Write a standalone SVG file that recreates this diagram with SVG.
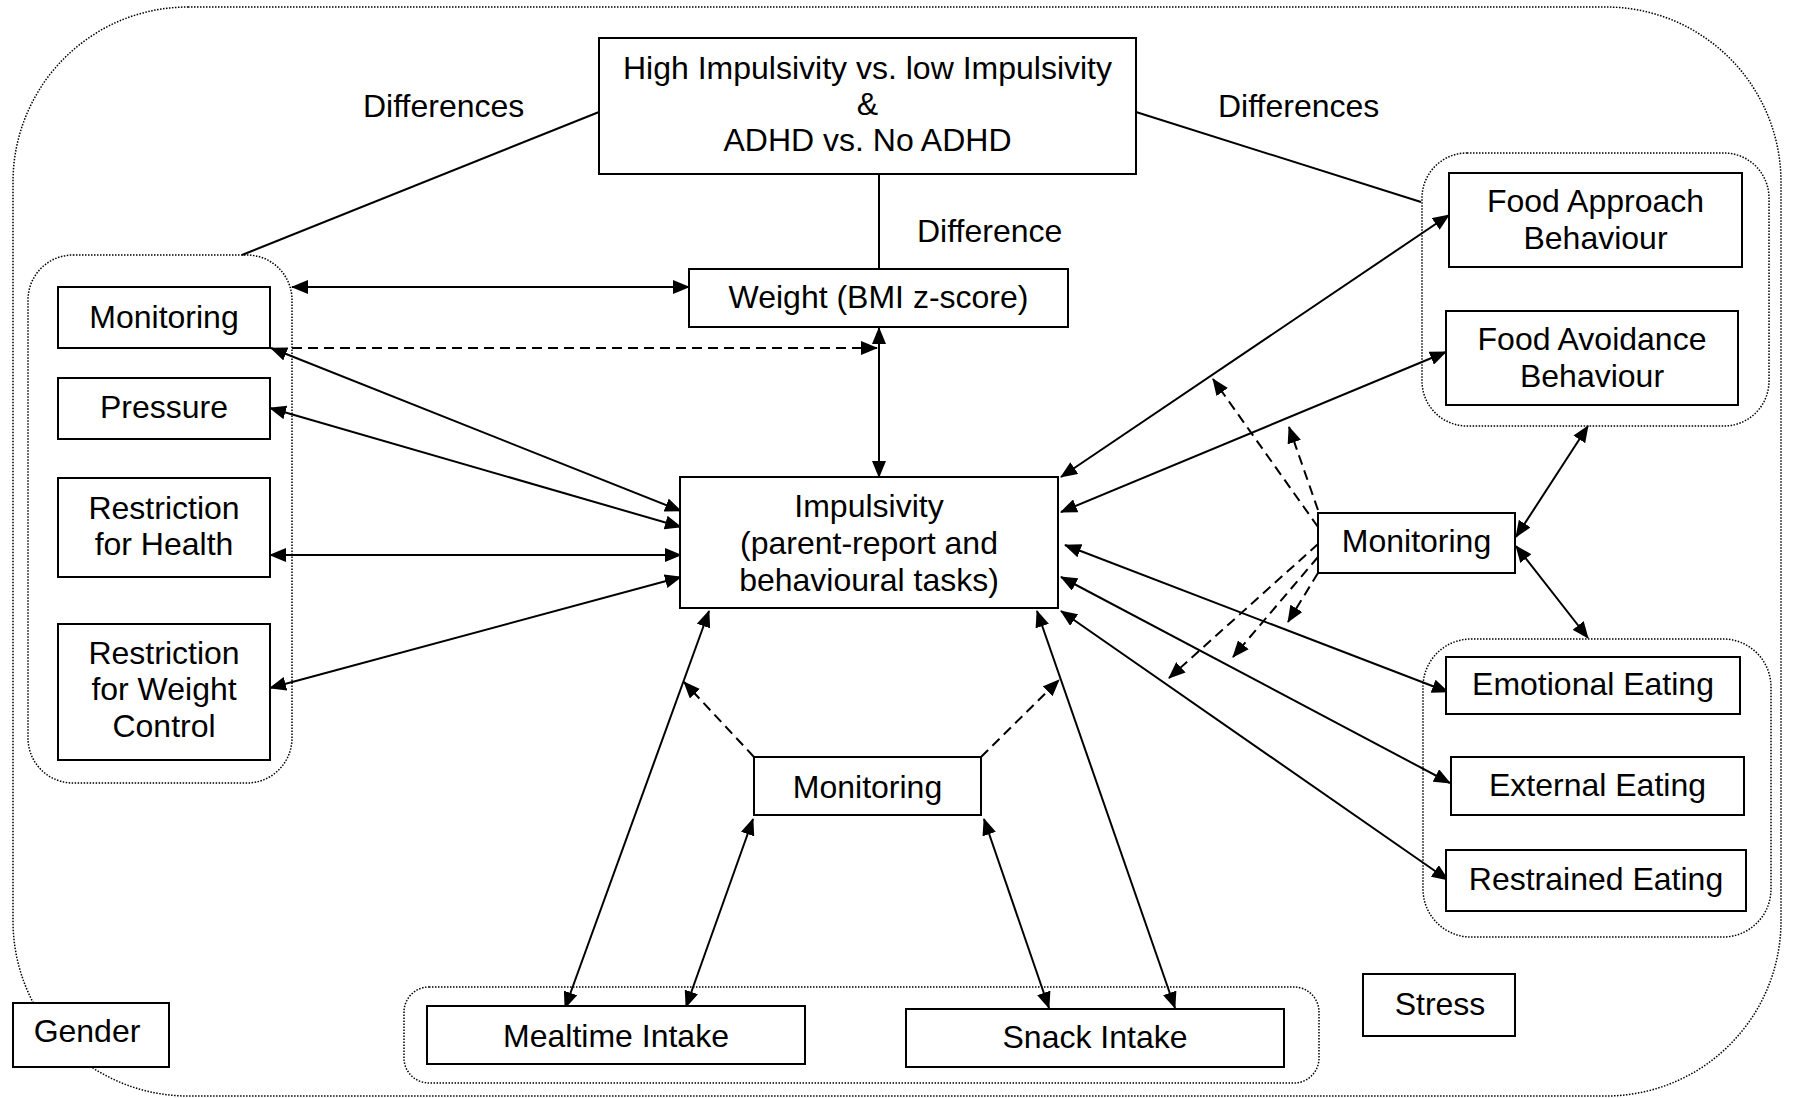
<svg xmlns="http://www.w3.org/2000/svg" width="1795" height="1098" viewBox="0 0 1795 1098">
  <defs>
    <style>
      .box { fill: #fff; stroke: #000; stroke-width: 2; }
      .grp { fill: none; stroke: #000; stroke-width: 1.5; stroke-dasharray: 1.5 1.5; }
      .ln { fill: none; stroke: #000; stroke-width: 2; }
      .both { marker-start: url(#ah); marker-end: url(#ah); }
      .one { marker-end: url(#ah); }
      .dash { stroke-dasharray: 10 6; }
      text { font-family: "Liberation Sans", Arial, sans-serif; font-size: 32px; fill: #000; }
      .c { text-anchor: middle; }
    </style>
    <marker id="ah" markerWidth="17" markerHeight="14" refX="16" refY="7" orient="auto-start-reverse" markerUnits="userSpaceOnUse">
      <path d="M0,0 L17,7 L0,14 z" fill="#000"/>
    </marker>
  </defs>

  <rect width="1795" height="1098" fill="#fff"/>

  <!-- enclosing dotted frame and sub-groups -->
  <g id="frames">
    <rect class="grp" x="13" y="7" width="1768" height="1089" rx="175" ry="175"/>
    <rect class="grp" x="28" y="255" width="264" height="528" rx="45" ry="45"/>
    <rect class="grp" x="1422" y="153" width="347" height="273" rx="45" ry="45"/>
    <rect class="grp" x="1423" y="639" width="348" height="298" rx="48" ry="48"/>
    <rect class="grp" x="404" y="987" width="915" height="96" rx="25" ry="25"/>
  </g>

  <!-- labels on the difference lines -->
  <g id="labels">
    <text x="363" y="117">Differences</text>
    <text x="1218" y="117">Differences</text>
    <text x="917" y="242">Difference</text>
  </g>

  <g id="connectors">
    <!-- plain difference lines -->
    <line class="ln" x1="599" y1="112" x2="242" y2="255"/>
    <line class="ln" x1="1136" y1="112" x2="1421" y2="202"/>
    <line class="ln" x1="879" y1="174" x2="879" y2="269"/>

    <!-- two-way relations -->
    <line class="ln both" x1="292" y1="287" x2="689" y2="287"/>
    <line class="ln both" x1="879" y1="328" x2="879" y2="477"/>
    <line class="ln both" x1="271" y1="348" x2="681" y2="511"/>
    <line class="ln both" x1="270" y1="408" x2="681" y2="527"/>
    <line class="ln both" x1="270" y1="555" x2="681" y2="555"/>
    <line class="ln both" x1="270" y1="688" x2="681" y2="577"/>
    <line class="ln both" x1="1061" y1="477" x2="1449" y2="215"/>
    <line class="ln both" x1="1061" y1="512" x2="1446" y2="352"/>
    <line class="ln both" x1="1065" y1="545" x2="1448" y2="692"/>
    <line class="ln both" x1="1061" y1="577" x2="1450" y2="783"/>
    <line class="ln both" x1="1061" y1="611" x2="1448" y2="880"/>
    <line class="ln both" x1="1516" y1="537" x2="1588" y2="426"/>
    <line class="ln both" x1="1516" y1="546" x2="1588" y2="638"/>
    <line class="ln both" x1="709" y1="611" x2="565" y2="1008"/>
    <line class="ln both" x1="753" y1="819" x2="686" y2="1007"/>
    <line class="ln both" x1="984" y1="819" x2="1049" y2="1008"/>
    <line class="ln both" x1="1037" y1="611" x2="1175" y2="1008"/>

    <!-- moderating (dashed) effects -->
    <line class="ln one dash" x1="292" y1="348" x2="877" y2="348"/>
    <line class="ln one dash" x1="1318" y1="527" x2="1213" y2="379"/>
    <line class="ln one dash" x1="1318" y1="510" x2="1289" y2="427"/>
    <line class="ln one dash" x1="1318" y1="544" x2="1169" y2="678"/>
    <line class="ln one dash" x1="1318" y1="557" x2="1233" y2="657"/>
    <line class="ln one dash" x1="1318" y1="573" x2="1288" y2="622"/>
    <line class="ln one dash" x1="754" y1="757" x2="684" y2="682"/>
    <line class="ln one dash" x1="981" y1="757" x2="1059" y2="680"/>
  </g>

  <g id="groups">
    <rect class="box" x="599" y="38" width="537" height="136"/>
    <text class="c" x="867.5" y="79">High Impulsivity vs. low Impulsivity</text>
    <text class="c" x="867.5" y="115">&amp;</text>
    <text class="c" x="867.5" y="151">ADHD vs. No ADHD</text>
  </g>

  <g id="weight">
    <rect class="box" x="689" y="269" width="379" height="58"/>
    <text class="c" x="878.5" y="308">Weight (BMI z-score)</text>
  </g>

  <g id="monitoring-left">
    <rect class="box" x="58" y="287" width="212" height="61"/>
    <text class="c" x="164" y="328">Monitoring</text>
  </g>

  <g id="pressure">
    <rect class="box" x="58" y="378" width="212" height="61"/>
    <text class="c" x="164" y="418">Pressure</text>
  </g>

  <g id="restriction-health">
    <rect class="box" x="58" y="478" width="212" height="99"/>
    <text class="c" x="164" y="519">Restriction</text>
    <text class="c" x="164" y="555">for Health</text>
  </g>

  <g id="restriction-weight">
    <rect class="box" x="58" y="624" width="212" height="136"/>
    <text class="c" x="164" y="664">Restriction</text>
    <text class="c" x="164" y="700">for Weight</text>
    <text class="c" x="164" y="737">Control</text>
  </g>

  <g id="impulsivity">
    <rect class="box" x="680" y="477" width="378" height="131"/>
    <text class="c" x="869" y="517">Impulsivity</text>
    <text class="c" x="869" y="554">(parent-report and</text>
    <text class="c" x="869" y="591">behavioural tasks)</text>
  </g>

  <g id="food-approach">
    <rect class="box" x="1449" y="173" width="293" height="94"/>
    <text class="c" x="1595.5" y="212">Food Approach</text>
    <text class="c" x="1595.5" y="249">Behaviour</text>
  </g>

  <g id="food-avoidance">
    <rect class="box" x="1446" y="311" width="292" height="94"/>
    <text class="c" x="1592" y="350">Food Avoidance</text>
    <text class="c" x="1592" y="387">Behaviour</text>
  </g>

  <g id="monitoring-right">
    <rect class="box" x="1318" y="513" width="197" height="60"/>
    <text class="c" x="1416.5" y="552">Monitoring</text>
  </g>

  <g id="emotional-eating">
    <rect class="box" x="1446" y="657" width="294" height="57"/>
    <text class="c" x="1593" y="695">Emotional Eating</text>
  </g>

  <g id="external-eating">
    <rect class="box" x="1451" y="757" width="293" height="58"/>
    <text class="c" x="1597.5" y="796">External Eating</text>
  </g>

  <g id="restrained-eating">
    <rect class="box" x="1446" y="850" width="300" height="61"/>
    <text class="c" x="1596" y="890">Restrained Eating</text>
  </g>

  <g id="monitoring-bottom">
    <rect class="box" x="754" y="757" width="227" height="58"/>
    <text class="c" x="867.5" y="798">Monitoring</text>
  </g>

  <g id="mealtime-intake">
    <rect class="box" x="427" y="1006" width="378" height="58"/>
    <text class="c" x="616" y="1047">Mealtime Intake</text>
  </g>

  <g id="snack-intake">
    <rect class="box" x="906" y="1009" width="378" height="58"/>
    <text class="c" x="1095" y="1048">Snack Intake</text>
  </g>

  <g id="gender">
    <rect class="box" x="13" y="1003" width="156" height="64"/>
    <text class="c" x="87" y="1042">Gender</text>
  </g>

  <g id="stress">
    <rect class="box" x="1363" y="974" width="152" height="62"/>
    <text class="c" x="1440" y="1015">Stress</text>
  </g>
</svg>
